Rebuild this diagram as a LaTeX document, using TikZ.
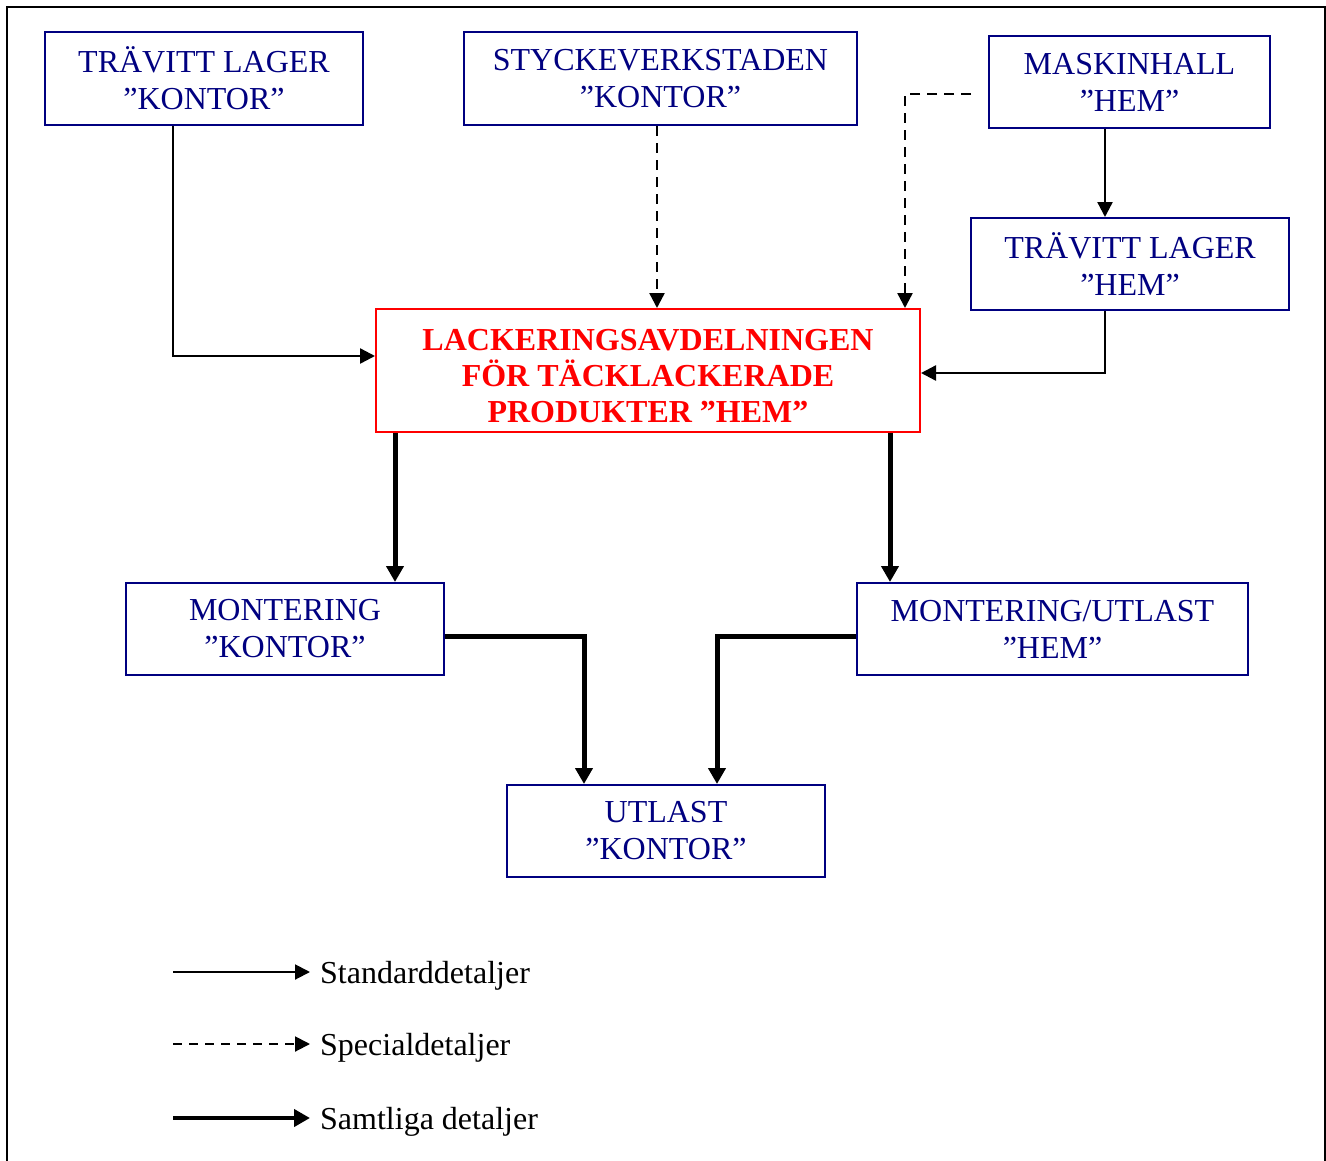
\documentclass[tikz,border=0pt]{standalone}
\usepackage{fontspec}
\setmainfont{Liberation Serif}
\usetikzlibrary{arrows.meta}
\definecolor{boxblue}{RGB}{0,0,128}
\begin{document}
\begin{tikzpicture}[x=1pt,y=-1pt,
  box/.style={draw=boxblue, line width=2pt, text=boxblue, align=center,
    font=\fontsize{32}{37}\selectfont, inner sep=0pt},
  redbox/.style={draw=red, line width=2pt, inner sep=0pt},
  redtext/.style={text=red, align=center,
    font=\bfseries\fontsize{32}{36}\selectfont, inner sep=0pt},
  legendtext/.style={font=\fontsize{32}{37}\selectfont, inner sep=0pt},
  std/.style={line width=2.4pt, -{Triangle[length=15pt,width=15pt]}},
  spc/.style={std, dash pattern=on 10pt off 7pt},
  allp/.style={line width=5pt, -{Triangle[length=16pt,width=17pt]}}
]
\useasboundingbox (0,0) rectangle (1326,1160);

% frame, open at the bottom
\draw[line width=2pt] (7,1170) -- (7,7) -- (1325,7) -- (1325,1170);

% departments
\node[box, minimum width=318, minimum height=93] (tlk) at (204,78.5)
  {TRÄVITT LAGER\\”KONTOR”};
\node[box, minimum width=393, minimum height=93] (sty) at (660.5,78.5)
  {STYCKEVERKSTADEN\\”KONTOR”};
\node[box, minimum width=281, minimum height=92] (mas) at (1129.5,82)
  {MASKINHALL\\”HEM”};
\node[box, minimum width=318, minimum height=92] (tlh) at (1130,264)
  {TRÄVITT LAGER\\”HEM”};
\node[redbox, minimum width=544, minimum height=123] (lack) at (648,370.5) {};
\node[redtext] (lacktext) at ([yshift=-6pt]lack.center)
  {LACKERINGSAVDELNINGEN\\FÖR TÄCKLACKERADE\\PRODUKTER ”HEM”};
\node[box, minimum width=318, minimum height=92] (mok) at (285,629)
  {MONTERING\\”KONTOR”};
\node[box, minimum width=391, minimum height=92] (mou) at (1052.5,629)
  {MONTERING/UTLAST\\”HEM”};
\node[box, minimum width=318, minimum height=92] (utk) at (666,831)
  {UTLAST\\”KONTOR”};

% flows into the paint shop
\draw[std] (tlk.south -| 173,0) |- ([yshift=14.5pt]lack.west);
\draw[spc] (sty.south -| 657,0) -- (lack.north -| 657,0);
\draw[spc] ([xshift=-17pt,yshift=-12pt]mas.west) -| (lack.north -| 905,0);
\draw[std] (mas.south -| 1105,0) -- (tlh.north -| 1105,0);
\draw[std] (tlh.south -| 1105,0) |- ([yshift=-2.5pt]lack.east);

% flows out of the paint shop
\draw[allp] (lack.south -| 395,0) -- (mok.north -| 395,0);
\draw[allp] (lack.south -| 890,0) -- (mou.north -| 890,0);
\draw[allp] ([yshift=-7pt]mok.east) -| (utk.north -| 584,0);
\draw[allp] ([yshift=-7pt]mou.west) -| (utk.north -| 717,0);

% legend
\node[legendtext, anchor=base west] (lg1) at (320,983) {Standarddetaljer};
\node[legendtext, anchor=base west] (lg2) at (320,1055) {Specialdetaljer};
\node[legendtext, anchor=base west] (lg3) at (320,1129) {Samtliga detaljer};
\coordinate (ls1) at (173,972);
\coordinate (ls2) at (173,1044);
\coordinate (ls3) at (173,1118);
\draw[std, line width=2pt, shorten >=10pt] (ls1) -- (ls1 -| lg1.west);
\draw[spc, line width=2pt, dash pattern=on 9pt off 7pt, shorten >=10pt] (ls2) -- (ls2 -| lg2.west);
\draw[allp, line width=4.5pt, shorten >=10pt] (ls3) -- (ls3 -| lg3.west);
\end{tikzpicture}
\end{document}
